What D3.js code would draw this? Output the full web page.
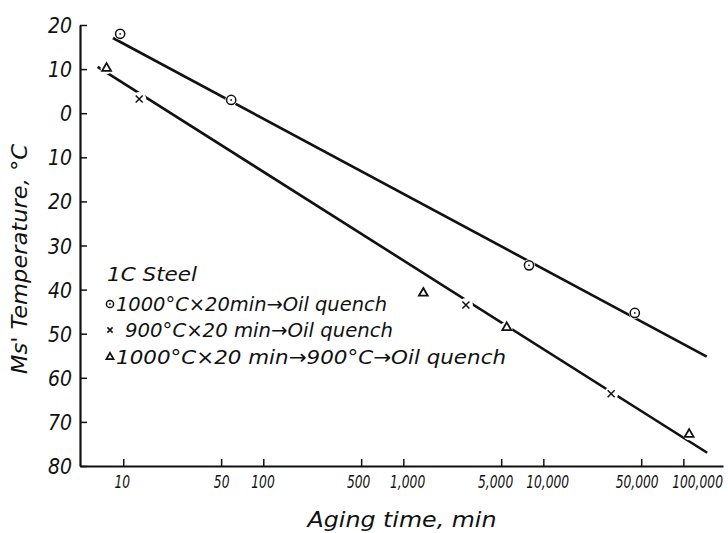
<!DOCTYPE html>
<html>
<head>
<meta charset="utf-8">
<script src="https://cdn.jsdelivr.net/npm/d3@7"></script>
<style>
  body { margin: 0; background: #fff; }
  text { font-family: "DejaVu Sans Condensed", "DejaVu Sans", sans-serif; font-stretch: condensed; font-style: italic; fill: #111; }
</style>
</head>
<body>
<svg id="chart" width="728" height="533"></svg>
<script>
// Aging time (min) and Ms' temperature (°C) for each treatment
const circleTimes   = [9.5, 59, 7900, 45000];
const circleTemps   = [18, 3, -34.5, -45.3];
const crossTimes    = [13, 2800, 30500];
const crossTemps    = [3.2, -43.5, -63.6];
const triangleTimes = [7.6, 1390, 5480, 110000];
const triangleTemps = [10.2, -40.8, -48.6, -72.8];

// Fitted trend lines (end points, in data units)
const upperFitTimes = [8.44, 146900];
const upperFitTemps = [17.05, -55.2];
const lowerFitTimes = [6.56, 148000];
const lowerFitTemps = [10.5, -77];

// Axis ticks
const xTickValues = [10, 50, 100, 500, 1000, 5000, 10000, 50000, 100000];
const yTickValues = [20, 10, 0, -10, -20, -30, -40, -50, -60, -70, -80];

// Legend
const legendTitle = "1C  Steel";
const legendLabels = [
  "1000°C×20min→Oil  quench",
  "900°C×20 min→Oil  quench",
  "1000°C×20 min→900°C→Oil quench"
];

const svg = d3.select("#chart");

const x = d3.scaleLog().domain([4.91, 191900]).range([80, 723]);
const y = d3.scaleLinear().domain([-80, 20]).range([466, 25]);

// Axes
const yAxis = svg.append("g")
  .attr("transform", "translate(80,0)")
  .call(d3.axisLeft(y).tickValues(yTickValues).tickSize(-7).tickSizeOuter(0).tickPadding(8)
        .tickFormat(d => Math.abs(d)));
yAxis.selectAll("text").style("font-size", "21px").attr("dy", "0.36em");

const xAxis = svg.append("g")
  .attr("transform", "translate(0,466)")
  .call(d3.axisBottom(x).tickValues(xTickValues).tickSize(-7).tickSizeOuter(0).tickPadding(9)
        .tickFormat(d3.format(",")));
// narrow hand lettering: squeeze horizontally, with small per-label offsets
const labelShift = [-2, 0, -1, -4, 5, -8, 5, -6, 18];
xAxis.selectAll(".tick text")
  .style("font-size", "18px")
  .attr("dx", (d, i) => labelShift[i])
  .attr("transform", "scale(0.76,1)");

svg.selectAll(".domain").attr("stroke", "#111").attr("stroke-width", 2.2);
svg.selectAll(".tick line").attr("stroke", "#111").attr("stroke-width", 1.5);

// Axis titles
svg.append("text")
  .attr("transform", "translate(27,259) rotate(-90)")
  .attr("text-anchor", "middle")
  .attr("textLength", 230).attr("lengthAdjust", "spacingAndGlyphs")
  .style("font-size", "22px")
  .text("Ms'  Temperature,  °C");

svg.append("text")
  .attr("x", 402).attr("y", 527)
  .attr("text-anchor", "middle")
  .attr("textLength", 189).attr("lengthAdjust", "spacingAndGlyphs")
  .style("font-size", "21px")
  .text("Aging  time,  min");

// Trend lines
const line = d3.line().x(d => x(d[0])).y(d => y(d[1]));
[[upperFitTimes, upperFitTemps], [lowerFitTimes, lowerFitTemps]].forEach(([ts, vs]) => {
  svg.append("path")
    .attr("d", line(ts.map((t, i) => [t, vs[i]])))
    .attr("fill", "none").attr("stroke", "#111").attr("stroke-width", 2.6);
});

// Marker shapes
function drawCircle(g, r) {
  g.append("circle").attr("r", r).attr("fill", "#fff").attr("stroke", "#111").attr("stroke-width", 1.5);
  g.append("circle").attr("r", 0.9).attr("fill", "#111");
}
function drawCross(g, s) {
  g.append("path").attr("d", `M${-s},${-s}L${s},${s}M${-s},${s}L${s},${-s}`)
    .attr("stroke", "#111").attr("stroke-width", 1.5).attr("fill", "none");
}
function drawTriangle(g, size) {
  g.append("path").attr("d", d3.symbol(d3.symbolTriangle, size)())
    .attr("fill", "#fff").attr("stroke", "#111").attr("stroke-width", 1.8);
}

function plotPoints(times, temps, draw, haloR) {
  times.forEach((t, i) => {
    const g = svg.append("g").attr("transform", `translate(${x(t)},${y(temps[i])})`);
    g.append("circle").attr("r", haloR).attr("fill", "#fff");
    draw(g);
  });
}
plotPoints(circleTimes, circleTemps, g => drawCircle(g, 4.6), 6);
plotPoints(crossTimes, crossTemps, g => drawCross(g, 3.5), 7);
plotPoints(triangleTimes, triangleTemps, g => drawTriangle(g, 34), 6);

// Legend
svg.append("text").attr("x", 107).attr("y", 281)
  .attr("textLength", 90).attr("lengthAdjust", "spacingAndGlyphs")
  .style("font-size", "20px").text(legendTitle);
const legendRows = [
  { y: 304, draw: g => drawCircle(g, 3.6), tx: 116, end: 387 },
  { y: 330, draw: g => drawCross(g, 2.6), tx: 125, end: 393 },
  { y: 357, draw: g => drawTriangle(g, 22), tx: 116, end: 506 }
];
legendRows.forEach((row, i) => {
  const g = svg.append("g").attr("transform", `translate(110,${row.y})`);
  row.draw(g);
  svg.append("text")
    .attr("x", row.tx).attr("y", row.y + 7)
    .attr("textLength", row.end - row.tx).attr("lengthAdjust", "spacingAndGlyphs")
    .style("font-size", "20px")
    .text(legendLabels[i]);
});
</script>
</body>
</html>
